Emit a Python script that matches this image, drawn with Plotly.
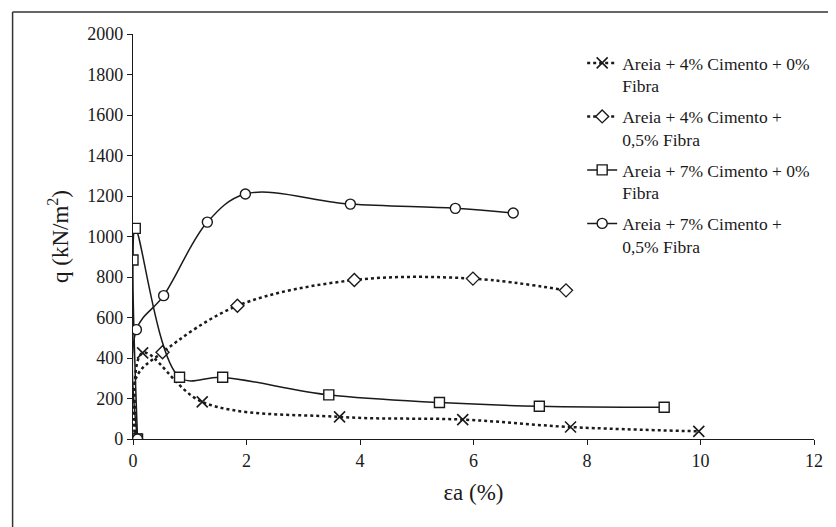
import plotly.graph_objects as go

# Data
x_4c_0f = [0.06, 0.17, 1.22, 3.64, 5.81, 7.71, 9.97]
y_4c_0f = [0, 425, 183, 109, 96, 59, 38]

x_4c_05f = [0.04, 0.06, 0.52, 1.84, 3.90, 5.99, 7.63]
y_4c_05f = [0, 305, 428, 658, 785, 792, 734]

x_7c_0f = [0.08, 0.00, 0.04, 0.82, 1.58, 3.45, 5.40, 7.16, 9.36]
y_7c_0f = [0, 884, 1040, 305, 305, 218, 180, 162, 157]

x_7c_05f = [0.08, 0.06, 0.54, 1.31, 1.98, 3.83, 5.68, 6.70]
y_7c_05f = [0, 540, 708, 1071, 1210, 1160, 1139, 1116]

names = [
    "Areia + 4% Cimento + 0%<br>Fibra",
    "Areia + 4% Cimento +<br>0,5% Fibra",
    "Areia + 7% Cimento + 0%<br>Fibra",
    "Areia + 7% Cimento +<br>0,5% Fibra",
]

x_ticks = [0, 2, 4, 6, 8, 10, 12]
y_ticks = [0, 200, 400, 600, 800, 1000, 1200, 1400, 1600, 1800, 2000]

# The page body has an 8px margin: the figure starts at (8, 8) on the page.
OFF = 8
PAGE_W, PAGE_H = 836, 527
W, H = PAGE_W - OFF, PAGE_H - OFF
# plot area in page pixels
AX_L, AX_R, AX_T, AX_B = 132.5, 814, 34, 438.7
ML = AX_L - OFF
MR = W - (AX_R - OFF)
MT = AX_T - OFF
MB = H - (AX_B - OFF)
PW = AX_R - AX_L
PH = AX_B - AX_T

def px2paper_x(px):  # page px -> paper
    return (px - AX_L) / PW

def px2paper_y(py):
    return (AX_B - py) / PH

INK = "#1a1a1a"
fig = go.Figure()

common_line = dict(color=INK, shape="spline", smoothing=1)

fig.add_trace(go.Scatter(
    x=x_4c_0f, y=y_4c_0f, name=names[0], mode="lines+markers", legendgroup="a",
    line=dict(dash="dot", width=2.5, **common_line),
    marker=dict(symbol="x-thin-open", size=11, color=INK,
                line=dict(width=1.6, color=INK)),
))
fig.add_trace(go.Scatter(
    x=x_4c_05f, y=y_4c_05f, name=names[1], mode="lines+markers", legendgroup="b",
    line=dict(dash="dot", width=2.5, **common_line),
    marker=dict(symbol="diamond", size=10, color="white",
                line=dict(width=1.4, color=INK)),
    selectedpoints=[0] + list(range(2, len(x_4c_05f))),
    selected=dict(marker=dict(opacity=1)),
    unselected=dict(marker=dict(opacity=0)),
))
fig.add_trace(go.Scatter(
    x=x_7c_0f, y=y_7c_0f, name=names[2], mode="lines+markers", legendgroup="c",
    line=dict(width=1.5, **common_line),
    marker=dict(symbol="square", size=10, color="white",
                line=dict(width=1.4, color=INK)),
))
fig.add_trace(go.Scatter(
    x=x_7c_05f, y=y_7c_05f, name=names[3], mode="lines+markers", legendgroup="d",
    line=dict(width=1.5, **common_line),
    marker=dict(symbol="circle", size=10, color="white",
                line=dict(width=1.4, color=INK)),
))

serif = "Liberation Serif"

fig.update_layout(
    width=W, height=H,
    margin=dict(l=ML, r=MR, t=MT, b=MB, pad=0),
    paper_bgcolor="white", plot_bgcolor="white",
    font=dict(family=serif, size=18, color=INK),
    showlegend=True,
    legend=dict(
        x=px2paper_x(582), y=px2paper_y(45), xanchor="left", yanchor="top",
        font=dict(family=serif, size=17.5, color=INK),
        valign="top", tracegroupgap=5, bgcolor="rgba(0,0,0,0)",
    ),
    xaxis=dict(
        range=[0, 12], tickvals=x_ticks, ticktext=[str(v) for v in x_ticks],
        showgrid=False, zeroline=False, showline=True, linecolor=INK,
        linewidth=1.2, ticks="outside", ticklen=5, tickcolor=INK,
        tickfont=dict(family=serif, size=18),
        title=dict(text="εa (%)", font=dict(family=serif, size=23), standoff=14),
    ),
    yaxis=dict(
        range=[0, 2000], tickvals=y_ticks, ticktext=[str(v) for v in y_ticks],
        showgrid=False, zeroline=False, showline=True, linecolor=INK,
        linewidth=1.2, ticks="outside", ticklen=5, tickcolor=INK,
        tickfont=dict(family=serif, size=18),
        title=dict(text="q (kN/m<sup>2</sup>)", font=dict(family=serif, size=23), standoff=12),
    ),
    shapes=[
        dict(type="line", xref="paper", yref="paper",
             x0=px2paper_x(12), x1=px2paper_x(840), y0=px2paper_y(12), y1=px2paper_y(12),
             line=dict(color="#333333", width=1.5)),
        dict(type="line", xref="paper", yref="paper",
             x0=px2paper_x(12), x1=px2paper_x(12), y0=px2paper_y(12), y1=px2paper_y(530),
             line=dict(color="#333333", width=1.5)),
    ],
)

fig.write_html("out.html")
